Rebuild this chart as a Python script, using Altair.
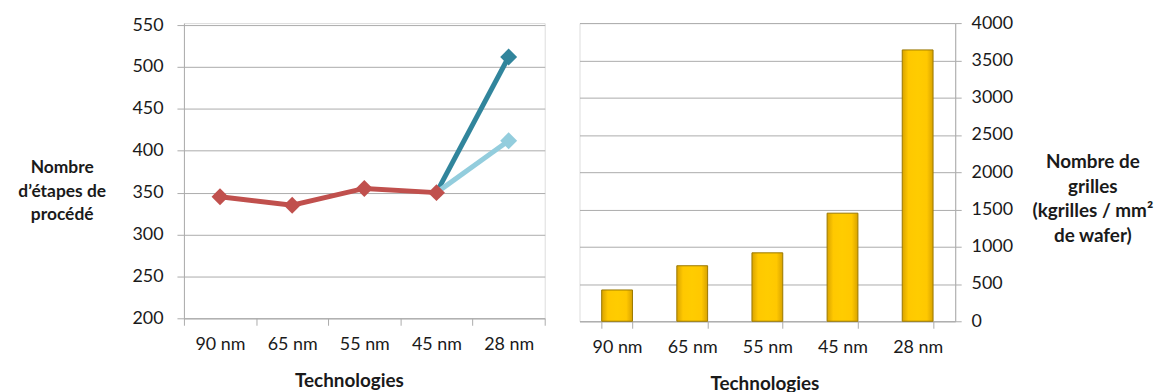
import altair as alt
import pandas as pd

techs = ["90 nm", "65 nm", "55 nm", "45 nm", "28 nm"]

# Left chart: number of process steps
steps_main = [345, 335, 355, 350]          # 90, 65, 55, 45 nm (red)
steps_high_28 = 512                        # dark teal branch at 28 nm
steps_low_28 = 412                         # light blue branch at 28 nm

# Right chart: gate density (kgrilles / mm² de wafer)
gates = [420, 745, 918, 1450, 3640]

FONT = "Lato"
GRID = "#ABABAB"
TXT = "#1a1a1a"

rows = []
for t, v in zip(techs[:4], steps_main):
    rows.append({"tech": t, "val": v, "series": "c_main", "pt": True})
rows.append({"tech": "45 nm", "val": steps_main[3], "series": "b_high", "pt": False})
rows.append({"tech": "28 nm", "val": steps_high_28, "series": "b_high", "pt": True})
rows.append({"tech": "45 nm", "val": steps_main[3], "series": "a_low", "pt": False})
rows.append({"tech": "28 nm", "val": steps_low_28, "series": "a_low", "pt": True})
df_l = pd.DataFrame(rows)

color_scale = alt.Scale(domain=["a_low", "b_high", "c_main"],
                        range=["#93CDDD", "#31859C", "#C0504D"])

x_l = alt.X("tech:N", sort=techs, bandPosition=0.5,
            scale=alt.Scale(type="band", paddingInner=0, paddingOuter=0),
            axis=alt.Axis(title="Technologies", titleFont=FONT, titleFontSize=19,
                          titleFontWeight="bold", titleColor=TXT,
                          titleX=166, titleY=63, titleBaseline="middle",
                          labelFont=FONT, labelFontSize=18, labelColor=TXT,
                          labelAngle=0, labelPadding=10, tickBand="extent",
                          tickSize=7, tickColor=GRID, domainColor=GRID, grid=False))
y_l = alt.Y("val:Q",
            scale=alt.Scale(domain=[200, 552.4], nice=False, zero=False),
            axis=alt.Axis(values=[200, 250, 300, 350, 400, 450, 500, 550],
                          title=["Nombre", "d\u2019\u00e9tapes de", "proc\u00e9d\u00e9"],
                          titleAngle=0, titleAlign="center", titleBaseline="top",
                          titleX=-123, titleY=136, titleLineHeight=24,
                          titleFont=FONT, titleFontSize=17.5, titleFontWeight="bold",
                          titleColor=TXT,
                          labelFont=FONT, labelFontSize=18, labelColor=TXT,
                          labelPadding=14, tickSize=7, tickColor=GRID,
                          domainColor=GRID, gridColor=GRID))

lines = alt.Chart(df_l).mark_line(strokeWidth=5).encode(
    x=x_l, y=y_l,
    color=alt.Color("series:N", scale=color_scale, legend=None),
    detail="series:N",
    order=alt.Order("tech:N"),
)
points = alt.Chart(df_l).transform_filter("datum.pt").mark_point(
    shape="diamond", filled=True, size=290, opacity=1
).encode(
    x=x_l, y=y_l,
    color=alt.Color("series:N", scale=color_scale, legend=None),
)
left = alt.layer(lines, points).properties(width=363, height=297)

# Right chart
df_r = pd.DataFrame({"tech": techs, "gates": gates})
grad = alt.Gradient(
    gradient="linear",
    stops=[alt.GradientStop(color="#D9A300", offset=0),
           alt.GradientStop(color="#FFC800", offset=0.2),
           alt.GradientStop(color="#FFCC00", offset=0.5),
           alt.GradientStop(color="#FFC800", offset=0.8),
           alt.GradientStop(color="#D9A300", offset=1)],
    x1=0, x2=1, y1=0, y2=0,
)
right = alt.Chart(df_r).mark_bar(color=grad, stroke="#9A7800", strokeWidth=1).encode(
    x=alt.X("tech:N", sort=techs,
            scale=alt.Scale(paddingInner=0.59, paddingOuter=0.295),
            axis=alt.Axis(title="Technologies", titleFont=FONT, titleFontSize=19,
                          titleFontWeight="bold", titleColor=TXT,
                          titleX=186, titleY=63, titleBaseline="middle",
                          labelFont=FONT, labelFontSize=18, labelColor=TXT,
                          labelAngle=0, labelPadding=10, tickBand="extent",
                          tickSize=7, tickColor=GRID, domainColor=GRID, grid=False)),
    y=alt.Y("gates:Q",
            scale=alt.Scale(domain=[0, 4000], nice=False),
            axis=alt.Axis(orient="right", values=list(range(0, 4001, 500)), format="d",
                          title=["Nombre de", "grilles", "(kgrilles / mm\u00b2", "de wafer)"],
                          titleAngle=0, titleAlign="center", titleBaseline="top",
                          titleX=138, titleY=130, titleLineHeight=25,
                          titleFont=FONT, titleFontSize=19, titleFontWeight="bold",
                          titleColor=TXT,
                          labelFont=FONT, labelFontSize=18, labelColor=TXT,
                          labelPadding=10, tickSize=6, tickColor=GRID,
                          domainColor=GRID, gridColor=GRID)),
).properties(width=378, height=300)

chart = alt.hconcat(left, right, spacing=35, bounds="flush").properties(
    padding={"left": 9, "top": 4, "right": 0, "bottom": 0}
).configure_view(stroke=None).configure(background="white")

chart.save("out.html", embed_options={"renderer": "svg", "actions": False})
